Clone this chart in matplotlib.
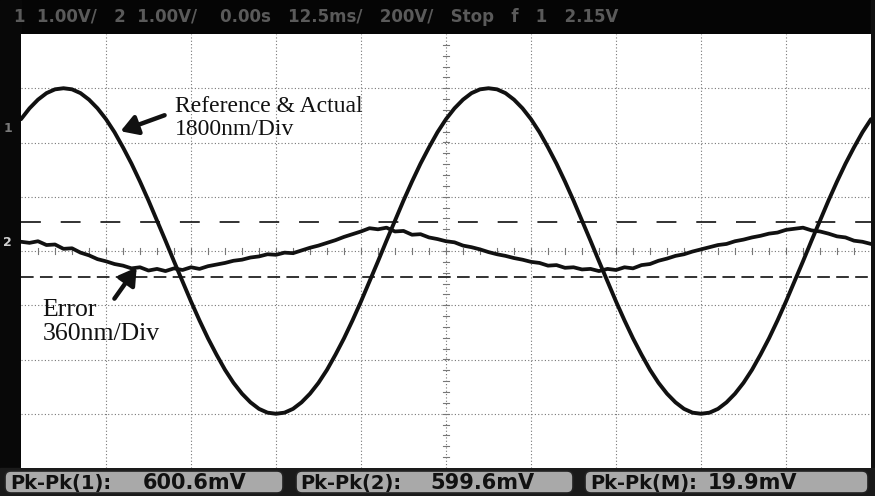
import numpy as np
import matplotlib
matplotlib.use("Agg")
import matplotlib.pyplot as plt
from matplotlib.patches import FancyBboxPatch, Rectangle

# ---------------- data (in screen divisions) ----------------
ref_x = [round(0.1 * i, 1) for i in range(101)]
ref_y = [2.43, 2.63, 2.79, 2.91, 2.98, 3.00, 2.98, 2.91, 2.79, 2.63,
         2.43, 2.19, 1.91, 1.61, 1.28, 0.93, 0.56, 0.19, -0.19, -0.56,
         -0.93, -1.28, -1.61, -1.91, -2.19, -2.43, -2.63, -2.79, -2.91, -2.98,
         -3.00, -2.98, -2.91, -2.79, -2.63, -2.43, -2.19, -1.91, -1.61, -1.28,
         -0.93, -0.56, -0.19, 0.19, 0.56, 0.93, 1.28, 1.61, 1.91, 2.19,
         2.43, 2.63, 2.79, 2.91, 2.98, 3.00, 2.98, 2.91, 2.79, 2.63,
         2.43, 2.19, 1.91, 1.61, 1.28, 0.93, 0.56, 0.19, -0.19, -0.56,
         -0.93, -1.28, -1.61, -1.91, -2.19, -2.43, -2.63, -2.79, -2.91, -2.98,
         -3.00, -2.98, -2.91, -2.79, -2.63, -2.43, -2.19, -1.91, -1.61, -1.28,
         -0.93, -0.56, -0.19, 0.19, 0.56, 0.93, 1.28, 1.61, 1.91, 2.19,
         2.43]

err_x = [round(0.1 * i, 1) for i in range(101)]
err_y = [0.17, 0.15, 0.18, 0.11, 0.12, 0.04, 0.05, -0.03, -0.08, -0.15,
         -0.19, -0.24, -0.27, -0.32, -0.30, -0.36, -0.33, -0.37, -0.32, -0.35,
         -0.30, -0.33, -0.28, -0.25, -0.22, -0.18, -0.16, -0.12, -0.10, -0.06,
         -0.07, -0.03, -0.04, 0.01, 0.06, 0.10, 0.15, 0.20, 0.26, 0.31,
         0.36, 0.42, 0.40, 0.43, 0.36, 0.37, 0.30, 0.31, 0.25, 0.22,
         0.18, 0.16, 0.10, 0.07, 0.03, -0.02, -0.06, -0.09, -0.13, -0.16,
         -0.20, -0.22, -0.27, -0.26, -0.31, -0.30, -0.34, -0.33, -0.37, -0.33,
         -0.35, -0.30, -0.32, -0.26, -0.24, -0.18, -0.14, -0.09, -0.06, -0.01,
         0.03, 0.07, 0.11, 0.13, 0.18, 0.21, 0.25, 0.28, 0.32, 0.34,
         0.39, 0.41, 0.43, 0.38, 0.36, 0.32, 0.27, 0.25, 0.19, 0.17,
         0.13]

cursor_levels = [0.53, -0.48]
meas_labels = ["Pk-Pk(1):", "Pk-Pk(2):", "Pk-Pk(M):"]
meas_values = ["600.6mV", "599.6mV", "19.9mV"]
status_text = "1  1.00V/   2  1.00V/    0.00s   12.5ms/   200V/   Stop   f   1   2.15V"

# ---------------- figure ----------------
W, H = 875, 496
fig = plt.figure(figsize=(W / 100, H / 100), dpi=100, facecolor="#0d0d0d")

ov = fig.add_axes([0, 0, 1, 1], zorder=0)
ov.set_xlim(0, W)
ov.set_ylim(H, 0)
ov.axis("off")
ov.add_patch(Rectangle((0, 0), W, 34, color="#050505"))
ov.add_patch(Rectangle((0, 0), 21, H, color="#080808"))
ov.add_patch(Rectangle((871, 0), 4, H, color="#101010"))
ov.add_patch(Rectangle((0, 468), W, 28, color="#1a1a1a"))

ov.text(14, 17, status_text, color="#5a5a5a", fontsize=12, fontweight="bold",
        va="center", ha="left", family="DejaVu Sans")
ov.text(7, 243, "2", color="#d0d0d0", fontsize=9, fontweight="bold",
        va="center", ha="center")
ov.text(8, 128, "1", color="#7a7a7a", fontsize=9, fontweight="bold",
        va="center", ha="center")

boxes = [(5, 283), (296, 573), (585, 868)]
label_x = [10, 300, 590]
value_x = [143, 430, 708]
for (x0, x1), lab, val, lx, vx in zip(boxes, meas_labels, meas_values, label_x, value_x):
    ov.add_patch(FancyBboxPatch((x0, 471), x1 - x0, 22,
                                boxstyle="round,pad=0,rounding_size=6",
                                facecolor="#a9a9a9", edgecolor="#222222", lw=1.2))
    ov.text(lx, 483, lab, color="#111111", fontsize=14, fontweight="bold",
            va="center", ha="left", family="DejaVu Sans")
    ov.text(vx, 483, val, color="#111111", fontsize=15, fontweight="bold",
            va="center", ha="left", family="DejaVu Sans")

# main scope screen
ax = fig.add_axes([21 / W, (H - 468) / H, 850 / W, 434 / H], zorder=1)
ax.set_facecolor("white")
ax.set_xlim(0, 10)
ax.set_ylim(-4, 4)
ax.set_xticks([])
ax.set_yticks([])
for s in ax.spines.values():
    s.set_visible(False)

grid_kw = dict(color="#777777", lw=0.8, ls=(0, (1, 2)), zorder=1)
for i in range(1, 10):
    ax.axvline(i, **grid_kw)
for j in range(-3, 4):
    ax.axhline(j, **grid_kw)
# centre-line minor ticks
for t in np.arange(0.2, 10, 0.2):
    ax.plot([t, t], [-0.05, 0.05], color="#777777", lw=0.8, zorder=1)
for t in np.arange(-3.8, 4, 0.2):
    ax.plot([4.97, 5.03], [t, t], color="#777777", lw=0.8, zorder=1)

# cursor lines
ax.axhline(cursor_levels[0], color="#222222", lw=1.3, ls=(0, (11, 11)), zorder=2)
ax.axhline(cursor_levels[1], color="#222222", lw=1.3, ls=(0, (7, 3.5)), zorder=2)

# traces
ax.plot(ref_x, ref_y, color="#111111", lw=2.8, zorder=4, solid_capstyle="round",
        solid_joinstyle="round")
ax.plot(err_x, err_y, color="#111111", lw=2.7, zorder=3, solid_joinstyle="round")

# annotations
serif = "Liberation Serif"
ax.text(1.81, 2.86, "Reference & Actual\n1800nm/Div", fontsize=17, family=serif,
        va="top", ha="left", linespacing=1.12, color="#111111", zorder=5)
ax.annotate("", xy=(1.14, 2.19), xytext=(1.72, 2.52),
            arrowprops=dict(arrowstyle="-|>,head_length=1.0,head_width=0.6",
                            lw=3.2, color="#111111"), zorder=5)
ax.text(0.25, -0.88, "Error\n360nm/Div", fontsize=18.5, family=serif,
        va="top", ha="left", linespacing=1.12, color="#111111", zorder=5)
ax.annotate("", xy=(1.38, -0.26), xytext=(1.08, -0.92),
            arrowprops=dict(arrowstyle="-|>,head_length=1.0,head_width=0.6",
                            lw=3.2, color="#111111"), zorder=5)

fig.savefig("out.png", dpi=100, facecolor=fig.get_facecolor())
